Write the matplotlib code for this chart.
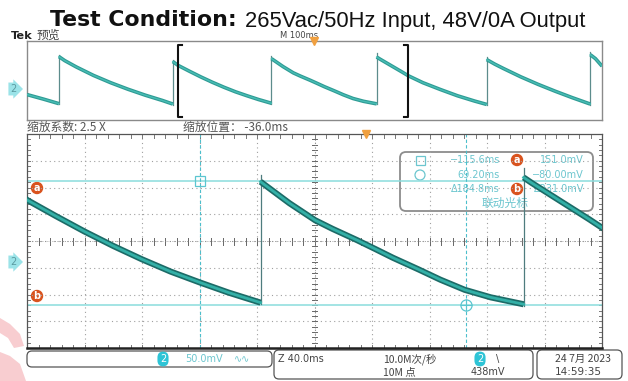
import matplotlib
matplotlib.use('Agg')
import matplotlib.pyplot as plt
from matplotlib.patches import FancyBboxPatch, Rectangle, Circle, Polygon

plt.rcParams['font.family'] = ['DejaVu Sans', 'Noto Sans CJK SC']

W, H = 628, 381

# ---------------- data ----------------
title_bold = "Test Condition:"
title_rest = "265Vac/50Hz Input, 48V/0A Output"

# channel-2 ripple waveform: time (ms) / level (mV); equal consecutive times = jump edge
wave_t = [-498.6, -470, -443,
          -443, -433, -413, -383, -353, -323, -293, -263, -245,
          -245, -236, -216, -196, -176, -156, -136, -116, -96, -73.5,
          -73.5, -63.5, -53.5, -35.5, -23.5, -6.5, 6.5, 18.5, 36.5, 51.5, 68.5, 86.5, 109.5,
          109.5, 115, 125, 135, 145, 155, 164, 190, 220, 250, 280, 301,
          301, 315, 330, 360, 390, 420, 450, 481,
          481, 490, 501.4]
wave_mv = [-32, -55, -78,
           160, 140, 108, 65, 28, -5, -35, -62, -80,
           135, 116, 86, 57, 30, 5, -18, -38, -57, -76,
           150, 130, 110, 78, 62, 41, 24, 8, -14, -33, -52, -66, -79,
           158, 148, 131, 114, 97, 80, 64, 28, -6, -38, -65, -82,
           145, 122, 100, 58, 20, -15, -48, -80,
           170, 150, 112]
spike_mv = [170, 142, 163, 176, 158, 182]   # overshoot peak at each jump edge

zoom_window_ms = [-236.0, 164.0]     # 40 ms/div x 10 div, position -36.0 ms
overview_window_ms = [-498.6, 501.4]  # 100 ms/div x 10 div
volt_window_mv = [-160.75, 239.25]    # 50 mV/div x 8 div

cursor_t = [-115.6, 69.20]
cursor_mv = [151.0, -80.00]
readout_time = ["\u2212115.6ms", "69.20ms", "\u0394184.8ms"]
readout_volt = ["151.0mV", "\u221280.00mV", "\u0394231.0mV"]

# ---------------- figure ----------------
fig = plt.figure(figsize=(W / 100, H / 100), dpi=100)
P = fig.add_axes([0, 0, 1, 1], zorder=0)
P.set_xlim(0, W)
P.set_ylim(H, 0)
P.axis('off')


def rect(x0, y0, x1, y1):
    return [x0 / W, 1 - y1 / H, (x1 - x0) / W, (y1 - y0) / H]


ov = fig.add_axes(rect(27, 41, 602, 120), zorder=1)
mn = fig.add_axes(rect(27, 134, 602, 348), zorder=1)
for a in (ov, mn):
    a.patch.set_alpha(0)
    a.set_xticks([])
    a.set_yticks([])
ov.set_xlim(*overview_window_ms)
ov.set_ylim(*volt_window_mv)
mn.set_xlim(*zoom_window_ms)
mn.set_ylim(*volt_window_mv)
for s in ov.spines.values():
    s.set_color('#8a8a8a')
    s.set_linewidth(1.0)
for k, s in mn.spines.items():
    s.set_color('#555555')
    s.set_linewidth(0.9)
mn.spines['bottom'].set_color('#222222')
mn.spines['bottom'].set_linewidth(1.8)

# ---------------- graticule (main) ----------------
x0, x1 = zoom_window_ms
y0, y1 = volt_window_mv
dx = (x1 - x0) / 10
dy = (y1 - y0) / 8
xc = (x0 + x1) / 2
yc = (y0 + y1) / 2
gcol = '#a0a0a0'
for i in range(1, 10):
    mn.axvline(x0 + i * dx, color=gcol, lw=0.8, ls=(0, (1, 3)), zorder=1)
for j in range(1, 8):
    mn.axhline(y0 + j * dy, color=gcol, lw=0.8, ls=(0, (1, 3)), zorder=1)
tlx = 2.6 * (x1 - x0) / 575
tly = 3.5 * (y1 - y0) / 214
for k in range(1, 50):
    xx = x0 + k * dx / 5
    mn.plot([xx, xx], [yc - tly, yc + tly], color='#666666', lw=0.7, zorder=1)
    mn.plot([xx, xx], [y0, y0 + tly], color='#777777', lw=0.7, zorder=1)
    mn.plot([xx, xx], [y1 - tly, y1], color='#777777', lw=0.7, zorder=1)
for k in range(1, 40):
    yy = y0 + k * dy / 5
    mn.plot([xc - tlx, xc + tlx], [yy, yy], color='#666666', lw=0.7, zorder=1)
    mn.plot([x0, x0 + tlx], [yy, yy], color='#777777', lw=0.7, zorder=1)
    mn.plot([x1 - tlx, x1], [yy, yy], color='#777777', lw=0.7, zorder=1)
mn.axvline(xc, color='#888888', lw=0.6, ls=(0, (1, 2)), zorder=1)
mn.axhline(yc, color='#888888', lw=0.6, ls=(0, (1, 2)), zorder=1)

# ---------------- cursors ----------------
for v in cursor_mv:
    mn.axhline(v, color='#8adcdc', lw=1.1, zorder=2)
for t in cursor_t:
    mn.axvline(t, color='#4cbfcc', lw=0.8, ls=(0, (3, 2)), zorder=2)
mn.plot([cursor_t[0]], [cursor_mv[0]], marker='s', ms=7, mfc='none', mec='#5cc6d0', mew=0.9, zorder=3)
mn.plot([cursor_t[1]], [cursor_mv[1]], marker='o', ms=8, mfc='none', mec='#5cc6d0', mew=0.9, zorder=3)
mn.plot([cursor_t[1]], [cursor_mv[1]], marker='+', ms=8, mec='#5cc6d0', mew=0.8, zorder=3)

# trigger markers
mn.plot([0], [y1], marker='v', ms=6, color='#f0a040', clip_on=False, zorder=6)
ov.plot([0], [y1], marker='v', ms=6, color='#f0a040', clip_on=False, zorder=6)


# ---------------- waveform ----------------
def split(t, v):
    segs, jumps = [], []
    ct, cv = [t[0]], [v[0]]
    for i in range(1, len(t)):
        if t[i] == t[i - 1]:
            segs.append((ct, cv))
            jumps.append((t[i], v[i - 1]))
            ct, cv = [t[i]], [v[i]]
        else:
            ct.append(t[i])
            cv.append(v[i])
    segs.append((ct, cv))
    return segs, jumps


segs, jumps = split(wave_t, wave_mv)
for (tj, lo), pk in zip(jumps, spike_mv):
    mn.plot([tj, tj], [lo - 3, pk], color='#4e7c7e', lw=0.9, zorder=4)
    ov.plot([tj, tj], [lo - 3, pk], color='#5c8c8c', lw=0.9, zorder=4)
for st, sv in segs:
    mn.plot(st, sv, color='#1c6b67', lw=4.4, solid_capstyle='butt', solid_joinstyle='round', zorder=5)
    mn.plot(st, sv, color='#33b0a7', lw=2.0, solid_joinstyle='round', zorder=5)
    ov.plot(st, sv, color='#2f9b94', lw=2.6, solid_capstyle='butt', solid_joinstyle='round', zorder=5)
    ov.plot(st, sv, color='#48bdb5', lw=1.0, solid_joinstyle='round', zorder=5)

# zoom bracket on overview
bt0, bt1 = zoom_window_ms
by0, by1 = -144, 221
ser = 7
ov.plot([bt0 + ser, bt0, bt0, bt0 + ser], [by1, by1, by0, by0], color='#111111', lw=1.5, zorder=6)
ov.plot([bt1 - ser, bt1, bt1, bt1 - ser], [by1, by1, by0, by0], color='#111111', lw=1.5, zorder=6)

# ---------------- watermark fragment (bottom-left) ----------------
P.add_patch(Polygon([(0, 318), (10, 324), (20, 334), (24, 346), (14, 348), (8, 338), (0, 333)],
                    closed=True, fc='#f8cdd0', ec='none', zorder=0))
P.add_patch(Polygon([(0, 352), (10, 356), (20, 364), (26, 381), (0, 381)],
                    closed=True, fc='#f8cdd0', ec='none', zorder=0))

# ---------------- texts & decorations ----------------
P.text(237, 26.5, title_bold, ha='right', va='baseline', fontsize=15.8, fontweight='bold',
       family='DejaVu Sans', color='#111111')
P.text(245, 26.5, title_rest, ha='left', va='baseline', fontsize=15.8, family='Liberation Sans',
       color='#111111')

P.text(11, 36, 'Tek', ha='left', va='center', fontsize=8.2, fontweight='bold', color='#222222')
P.text(37, 35, '预览', ha='left', va='center', fontsize=8.5, color='#444444',
       family=['Noto Sans CJK SC', 'DejaVu Sans'])
P.text(299, 35.5, 'M 100ms', ha='center', va='center', fontsize=6, color='#444444')

cjk = ['Noto Sans CJK SC', 'DejaVu Sans']
P.text(27, 127, '缩放系数: 2.5 X', ha='left', va='center', fontsize=8.5, color='#555555', family=cjk)
P.text(183, 127, '缩放位置： -36.0ms', ha='left', va='center', fontsize=8.5, color='#555555', family=cjk)

# channel badges
for yb in (89, 262):
    P.text(13, yb, '2', ha='center', va='center', fontsize=7, color='#5a9aa0',
           bbox=dict(boxstyle='rarrow,pad=0.15', fc='#9be3e8', ec='none'))


def badge(x, y, ch):
    P.add_patch(Circle((x, y), 6.2, fc='#d9531e', ec='none', zorder=3))
    P.text(x, y, ch, ha='center', va='center', fontsize=7, fontweight='bold', color='white', zorder=4)


badge(37, 188, 'a')
badge(37, 296, 'b')

# cursor readout box
P.add_patch(FancyBboxPatch((400, 152), 193, 59, boxstyle='round,pad=0,rounding_size=6',
                           fc='none', ec='#8c8c8c', lw=1.3))
P.add_patch(Rectangle((415.5, 155.5), 9, 9, fc='none', ec='#6cc6cf', lw=0.9))
P.add_patch(Circle((420, 175), 5, fc='none', ec='#6cc6cf', lw=0.9))
rc = '#6cc6cf'
for k, yy in enumerate((160, 175, 189)):
    P.text(500, yy, readout_time[k], ha='right', va='center', fontsize=7, color=rc)
    P.text(584, yy, readout_volt[k], ha='right', va='center', fontsize=7, color=rc)
badge(517, 160, 'a')
badge(517, 189, 'b')
P.text(505, 203, '联动光标', ha='center', va='center', fontsize=8.5, color=rc, family=cjk)

# bottom info boxes
bx = dict(boxstyle='round,pad=0,rounding_size=5', fc='none', ec='#555555', lw=0.9)
P.add_patch(FancyBboxPatch((27, 351), 245, 16, **bx))
P.add_patch(FancyBboxPatch((274, 350), 259, 29, **bx))
P.add_patch(FancyBboxPatch((537, 350), 85, 29, **bx))
P.text(163, 359, '2', ha='center', va='center', fontsize=7, color='white',
       bbox=dict(boxstyle='round,pad=0.25,rounding_size=0.6', fc='#2ec4d6', ec='none'))
P.text(185, 359, '50.0mV', ha='left', va='center', fontsize=7, color='#6cc6cf')
P.text(234, 359, '\u223f\u223f', ha='left', va='center', fontsize=7, color='#6cc6cf')
P.text(278, 359, 'Z 40.0ms', ha='left', va='center', fontsize=7, color='#444444')
P.text(383, 359, '10.0M次/秒', ha='left', va='center', fontsize=7.5, color='#444444', family=cjk)
P.text(383, 372, '10M 点', ha='left', va='center', fontsize=7.5, color='#444444', family=cjk)
P.text(480, 359, '2', ha='center', va='center', fontsize=7, color='white',
       bbox=dict(boxstyle='round,pad=0.25,rounding_size=0.6', fc='#2ec4d6', ec='none'))
P.text(498, 359, '\\', ha='center', va='center', fontsize=7, color='#444444')
P.text(488, 372, '438mV', ha='center', va='center', fontsize=7, color='#444444')
P.text(583, 359, '24 7月 2023', ha='center', va='center', fontsize=7.5, color='#444444', family=cjk)
P.text(578, 372, '14:59:35', ha='center', va='center', fontsize=7.5, color='#444444')

fig.savefig('out.png', dpi=100)
